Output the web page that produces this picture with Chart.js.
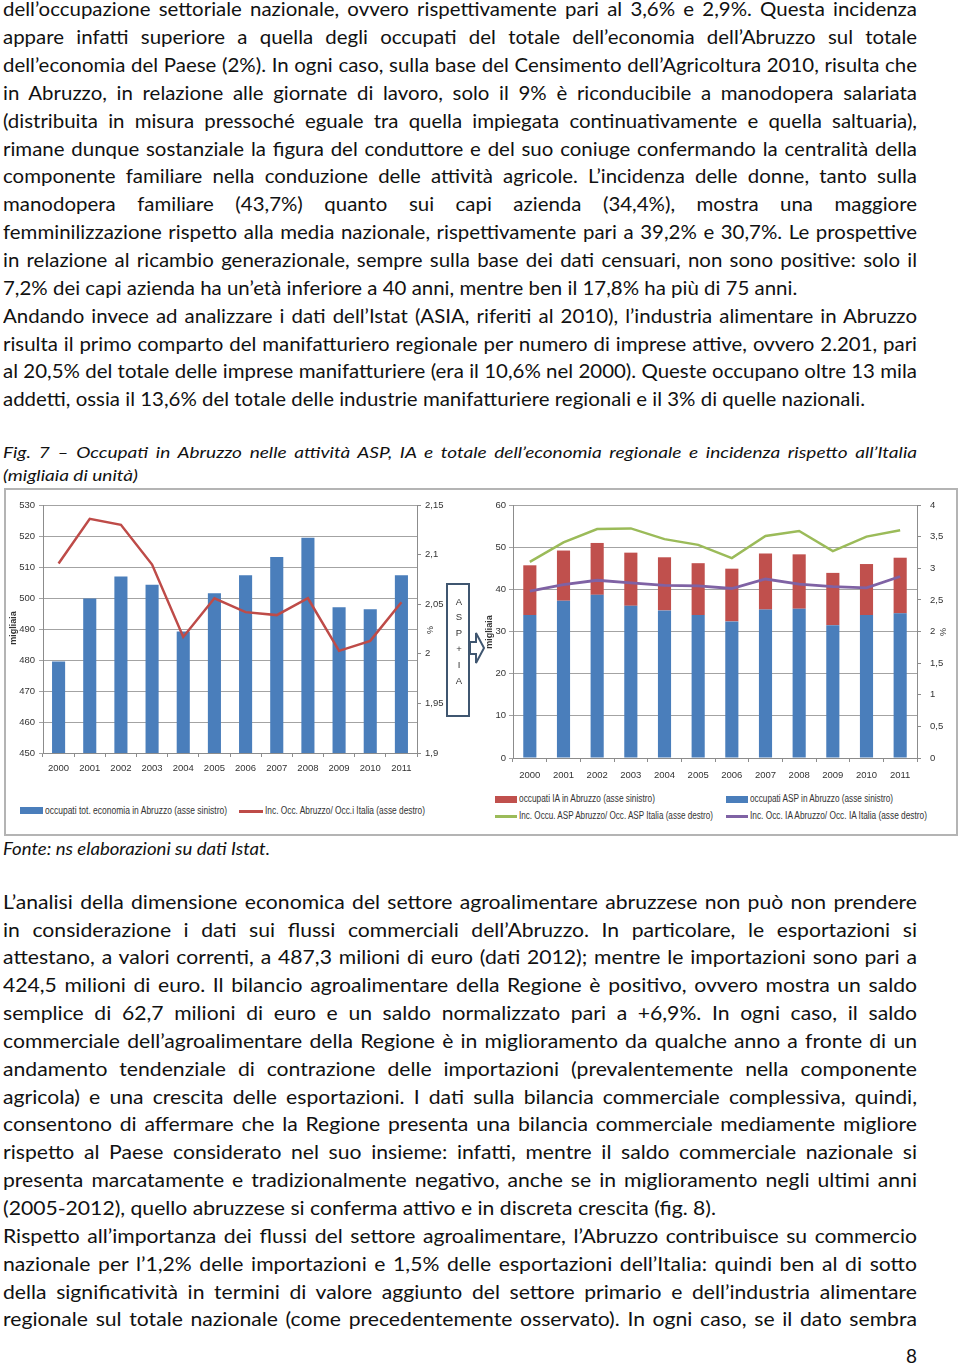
<!DOCTYPE html>
<html lang="it">
<head>
<meta charset="utf-8">
<script src="https://cdn.jsdelivr.net/npm/chart.js@4.4.0/dist/chart.umd.min.js"></script>
<style>
  html, body { margin: 0; padding: 0; background: #fff; }
  body { position: relative; width: 960px; height: 1365px; overflow: hidden; color: #111; }
  .blk { position: absolute; left: 3px; white-space: nowrap; transform-origin: 0 0; font-family: Lato, sans-serif; }
  .body { font-size: 19px; line-height: 27.85px; }
  .ln { display: block; }
  .cap { font-style: italic; font-size: 16px; line-height: 23px; }
  .src { font-style: italic; font-size: 18px; line-height: 24px; }
  .frame { position: absolute; left: 4px; top: 488px; width: 954px; height: 348px; border: 2px solid #b4b4b4; box-sizing: border-box; }
  canvas { position: absolute; }
  .lg { position: absolute; font-family: "Liberation Sans", sans-serif; font-size: 10px; line-height: 12px; color: #333; white-space: nowrap; transform-origin: 0 0; }
  .sw { position: absolute; }
  .at { position: absolute; font-family: "Liberation Sans", sans-serif; font-size: 9px; color: #333; white-space: nowrap; transform: translate(-50%, -50%) rotate(-90deg); }
  .aspia { position: absolute; left: 446px; top: 583px; width: 24px; height: 134px; border: 2px solid #3f5670; box-sizing: border-box; background: #fff; font-family: "Liberation Sans", sans-serif; font-size: 9.5px; color: #333; text-align: center; }
  .aspia div { position: absolute; left: 0; width: 22px; }
</style>
</head>
<body>

<div class="blk body" id="t1" style="top:-4.6px">
  <div class="ln"><span>dell’occupazione settoriale nazionale, ovvero rispettivamente pari al 3,6% e 2,9%. Questa incidenza</span></div>
  <div class="ln"><span>appare infatti superiore a quella degli occupati del totale dell’economia dell’Abruzzo sul totale</span></div>
  <div class="ln"><span>dell’economia del Paese (2%). In ogni caso, sulla base del Censimento dell’Agricoltura 2010, risulta che</span></div>
  <div class="ln"><span>in Abruzzo, in relazione alle giornate di lavoro, solo il 9% è riconducibile a manodopera salariata</span></div>
  <div class="ln"><span>(distribuita in misura pressoché eguale tra quella impiegata continuativamente e quella saltuaria),</span></div>
  <div class="ln"><span>rimane dunque sostanziale la figura del conduttore e del suo coniuge confermando la centralità della</span></div>
  <div class="ln"><span>componente familiare nella conduzione delle attività agricole. L’incidenza delle donne, tanto sulla</span></div>
  <div class="ln"><span>manodopera familiare (43,7%) quanto sui capi azienda (34,4%), mostra una maggiore</span></div>
  <div class="ln"><span>femminilizzazione rispetto alla media nazionale, rispettivamente pari a 39,2% e 30,7%. Le prospettive</span></div>
  <div class="ln"><span>in relazione al ricambio generazionale, sempre sulla base dei dati censuari, non sono positive: solo il</span></div>
  <div class="ln" data-end="795"><span>7,2% dei capi azienda ha un’età inferiore a 40 anni, mentre ben il 17,8% ha più di 75 anni.</span></div>
  <div class="ln"><span>Andando invece ad analizzare i dati dell’Istat (ASIA, riferiti al 2010), l’industria alimentare in Abruzzo</span></div>
  <div class="ln"><span>risulta il primo comparto del manifatturiero regionale per numero di imprese attive, ovvero 2.201, pari</span></div>
  <div class="ln"><span>al 20,5% del totale delle imprese manifatturiere (era il 10,6% nel 2000). Queste occupano oltre 13 mila</span></div>
  <div class="ln" data-end="865"><span>addetti, ossia il 13,6% del totale delle industrie manifatturiere regionali e il 3% di quelle nazionali.</span></div>
</div>

<div class="blk cap" id="t2" style="top:440.3px">
  <div class="ln"><span>Fig. 7 – Occupati in Abruzzo nelle attività ASP, IA e totale dell’economia regionale e incidenza rispetto all’Italia</span></div>
  <div class="ln" data-end="138"><span>(migliaia di unità)</span></div>
</div>

<div class="frame"></div>
<canvas id="c1" width="440" height="300" style="left:5px; top:490px"></canvas>
<canvas id="c2" width="470" height="300" style="left:485px; top:490px"></canvas>

<div class="at" style="left:13px; top:628px; font-weight:bold">migliaia</div>
<div class="at" style="left:430px; top:630px">%</div>
<div class="at" style="left:489px; top:632px; font-weight:bold">migliaia</div>
<div class="at" style="left:943px; top:632px">%</div>

<div class="aspia">
  <div style="top:11px">A</div>
  <div style="top:26px">S</div>
  <div style="top:42px">P</div>
  <div style="top:58px">+</div>
  <div style="top:74px">I</div>
  <div style="top:90px">A</div>
</div>
<svg style="position:absolute; left:468px; top:630px" width="20" height="36">
  <polygon points="2,12 8,12 8,3 16,18 8,33 8,24 2,24" fill="#fff" stroke="#3f5670" stroke-width="2"/>
</svg>

<div class="sw" style="left:20px; top:807px; width:23px; height:7px; background:#4a7ebb"></div>
<div class="lg" data-w="182" style="left:45px; top:805px">occupati tot. economia in Abruzzo (asse sinistro)</div>
<div class="sw" style="left:239px; top:810px; width:24px; height:2.5px; background:#be4b48"></div>
<div class="lg" data-w="160" style="left:265px; top:805px">Inc. Occ. Abruzzo/ Occ.i Italia (asse destro)</div>

<div class="sw" style="left:495px; top:795.5px; width:22px; height:7px; background:#c0504d"></div>
<div class="lg" data-w="136" style="left:519px; top:793px">occupati IA in Abruzzo (asse sinistro)</div>
<div class="sw" style="left:726px; top:795.5px; width:22px; height:7px; background:#4a7ebb"></div>
<div class="lg" data-w="143" style="left:750px; top:793px">occupati ASP in Abruzzo (asse sinistro)</div>
<div class="sw" style="left:495px; top:815px; width:22px; height:2.5px; background:#9bbb59"></div>
<div class="lg" data-w="194" style="left:519px; top:810px">Inc. Occu. ASP Abruzzo/ Occ. ASP Italia (asse destro)</div>
<div class="sw" style="left:726px; top:815px; width:22px; height:2.5px; background:#7f62a4"></div>
<div class="lg" data-w="177" style="left:750px; top:810px">Inc. Occ. IA Abruzzo/ Occ. IA Italia (asse destro)</div>

<div class="blk src" id="t3" style="top:836px">
  <div class="ln" data-end="270"><span>Fonte: ns elaborazioni su dati Istat.</span></div>
</div>

<div class="blk body" id="t4" style="top:887.7px">
  <div class="ln"><span>L’analisi della dimensione economica del settore agroalimentare abruzzese non può non prendere</span></div>
  <div class="ln"><span>in considerazione i dati sui flussi commerciali dell’Abruzzo. In particolare, le esportazioni si</span></div>
  <div class="ln"><span>attestano, a valori correnti, a 487,3 milioni di euro (dati 2012); mentre le importazioni sono pari a</span></div>
  <div class="ln"><span>424,5 milioni di euro. Il bilancio agroalimentare della Regione è positivo, ovvero mostra un saldo</span></div>
  <div class="ln"><span>semplice di 62,7 milioni di euro e un saldo normalizzato pari a +6,9%. In ogni caso, il saldo</span></div>
  <div class="ln"><span>commerciale dell’agroalimentare della Regione è in miglioramento da qualche anno a fronte di un</span></div>
  <div class="ln"><span>andamento tendenziale di contrazione delle importazioni (prevalentemente nella componente</span></div>
  <div class="ln"><span>agricola) e una crescita delle esportazioni. I dati sulla bilancia commerciale complessiva, quindi,</span></div>
  <div class="ln"><span>consentono di affermare che la Regione presenta una bilancia commerciale mediamente migliore</span></div>
  <div class="ln"><span>rispetto al Paese considerato nel suo insieme: infatti, mentre il saldo commerciale nazionale si</span></div>
  <div class="ln"><span>presenta marcatamente e tradizionalmente negativo, anche se in miglioramento negli ultimi anni</span></div>
  <div class="ln" data-end="716"><span>(2005-2012), quello abruzzese si conferma attivo e in discreta crescita (fig. 8).</span></div>
  <div class="ln"><span>Rispetto all’importanza dei flussi del settore agroalimentare, l’Abruzzo contribuisce su commercio</span></div>
  <div class="ln"><span>nazionale per l’1,2% delle importazioni e 1,5% delle esportazioni dell’Italia: quindi ben al di sotto</span></div>
  <div class="ln"><span>della significatività in termini di valore aggiunto del settore primario e dell’industria alimentare</span></div>
  <div class="ln"><span>regionale sul totale nazionale (come precedentemente osservato). In ogni caso, se il dato sembra</span></div>
</div>
<div class="blk body" style="left:auto; right:43px; top:1341.7px">8</div>

<script>
// anni
const years = ['2000', '2001', '2002', '2003', '2004', '2005', '2006', '2007', '2008', '2009', '2010', '2011'];

// grafico sinistro: occupati totali (migliaia) e incidenza su Italia (%)
const occTotAbruzzo = [479.5, 499.8, 506.9, 504.3, 489.2, 501.5, 507.3, 513.2, 519.4, 497.0, 496.4, 507.3];
const incTotItalia = [2.091, 2.136, 2.130, 2.090, 2.017, 2.056, 2.042, 2.039, 2.056, 2.003, 2.013, 2.052];

// grafico destro: occupati ASP e IA (migliaia) e incidenze (%)
const occASP = [33.9, 37.3, 38.7, 36.1, 35.0, 33.9, 32.4, 35.2, 35.4, 31.5, 33.9, 34.3];
const occIA = [11.8, 11.9, 12.3, 12.6, 12.6, 12.3, 12.5, 13.3, 12.9, 12.4, 12.1, 13.2];
const incASP = [3.10, 3.41, 3.62, 3.63, 3.46, 3.37, 3.16, 3.51, 3.59, 3.27, 3.50, 3.60];
const incIA = [2.64, 2.74, 2.81, 2.77, 2.73, 2.72, 2.68, 2.83, 2.75, 2.71, 2.69, 2.87];

// etichette degli assi
const ticksTot = [450, 460, 470, 480, 490, 500, 510, 520, 530];
const ticksTotPct = [1.9, 1.95, 2, 2.05, 2.1, 2.15];
const ticksSett = [0, 10, 20, 30, 40, 50, 60];
const ticksSettPct = [0, 0.5, 1, 1.5, 2, 2.5, 3, 3.5, 4];

const fmt = v => String(v).replace('.', ',');
const fixTicks = arr => s => { s.ticks = arr.map(v => ({ value: v })); };
const fixWidth = w => s => { s.width = w; };
const tickFont = { family: "'Liberation Sans', sans-serif", size: 9.5 };
const txt = '#333';
const axisCol = '#8c8c8c';
const gridCol = '#a3a3a3';

function xScale(stacked, pad) {
    return {
        stacked: stacked,
        grid: { offset: true, drawOnChartArea: false, tickLength: 4, color: axisCol },
        border: { color: axisCol },
        ticks: { font: tickFont, color: txt, padding: pad, maxRotation: 0, autoSkip: false },
        afterFit: s => { s.height = 24; }
    };
}

function yScale(pos, min, max, arr, width, pad, grid, stacked) {
    return {
        position: pos,
        min: min,
        max: max,
        stacked: stacked,
        afterBuildTicks: fixTicks(arr),
        afterFit: fixWidth(width),
        grid: { drawOnChartArea: grid, tickLength: 4, color: grid ? gridCol : axisCol },
        border: { color: axisCol },
        ticks: { font: tickFont, color: txt, padding: pad, callback: v => fmt(v) }
    };
}

new Chart(document.getElementById('c1'), {
    data: {
        labels: years,
        datasets: [{
            type: 'line',
            data: incTotItalia,
            yAxisID: 'y1',
            borderColor: '#be4b48',
            borderWidth: 2.5,
            pointRadius: 0,
            tension: 0,
            order: 0
        }, {
            type: 'bar',
            data: occTotAbruzzo,
            yAxisID: 'y',
            backgroundColor: '#4a7ebb',
            barPercentage: 0.42,
            categoryPercentage: 1,
            order: 1
        }]
    },
    options: {
        responsive: false,
        animation: false,
        layout: { padding: { left: 0, right: 0, top: 15, bottom: 13 } },
        plugins: { legend: { display: false }, tooltip: { enabled: false } },
        scales: {
            x: xScale(false, 6),
            y: yScale('left', 450, 530, ticksTot, 38, 4, true, false),
            y1: yScale('right', 1.9, 2.15, ticksTotPct, 28, 4, false, false)
        }
    }
});

new Chart(document.getElementById('c2'), {
    data: {
        labels: years,
        datasets: [{
            type: 'line',
            data: incASP,
            yAxisID: 'y1',
            borderColor: '#9bbb59',
            borderWidth: 2.5,
            pointRadius: 0,
            tension: 0,
            order: 0
        }, {
            type: 'line',
            data: incIA,
            yAxisID: 'y1',
            borderColor: '#7f62a4',
            borderWidth: 2.8,
            pointRadius: 0,
            tension: 0,
            order: 0
        }, {
            type: 'bar',
            data: occASP,
            yAxisID: 'y',
            backgroundColor: '#4a7ebb',
            barPercentage: 0.39,
            categoryPercentage: 1,
            order: 1
        }, {
            type: 'bar',
            data: occIA,
            yAxisID: 'y',
            backgroundColor: '#c0504d',
            barPercentage: 0.39,
            categoryPercentage: 1,
            order: 1
        }]
    },
    options: {
        responsive: false,
        animation: false,
        layout: { padding: { left: 0, right: 0, top: 15, bottom: 8 } },
        plugins: { legend: { display: false }, tooltip: { enabled: false } },
        scales: {
            x: xScale(true, 8),
            y: yScale('left', 0, 60, ticksSett, 28, 3, true, true),
            y1: yScale('right', 0, 4, ticksSettPct, 38, 9, false, false)
        }
    }
});

// giustifica le righe di testo come nel documento
function fitBlock(id, left, right) {
    const block = document.getElementById(id);
    const rows = [...block.querySelectorAll('.ln')];
    const widths = rows.map(r => r.firstElementChild.getBoundingClientRect().width);
    let s = 1;
    rows.forEach((r, i) => { if (r.dataset.end) s = (r.dataset.end - left) / widths[i]; });
    const W = (right - left) / s;
    rows.forEach((r, i) => {
        if (r.dataset.end) return;
        const span = r.firstElementChild;
        const gaps = span.textContent.split(' ').length - 1;
        span.style.wordSpacing = ((W - widths[i]) / gaps) + 'px';
    });
    block.style.transform = 'scaleX(' + s + ')';
}
fitBlock('t1', 3, 917);
fitBlock('t2', 3, 917);
fitBlock('t3', 3, 917);
fitBlock('t4', 3, 917);

document.querySelectorAll('.lg').forEach(el => {
    const w = el.getBoundingClientRect().width;
    el.style.transform = 'scaleX(' + (el.dataset.w / w) + ')';
});
</script>
</body>
</html>
